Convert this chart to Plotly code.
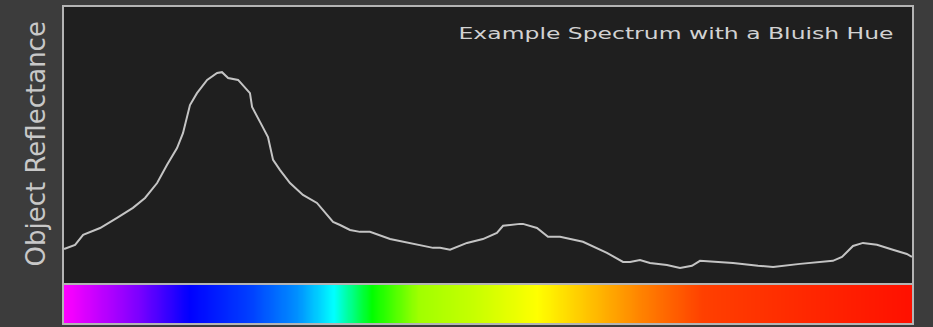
import numpy as np
import plotly.graph_objects as go

# Spectrum curve (wavelength in nm, relative reflectance 0..1)
wavelength = [380.0, 385.2, 389.0, 397.0, 405.0, 412.5, 418.2, 423.9, 428.6, 433.3,
              436.1, 439.4, 442.7, 447.5, 452.2, 454.5, 457.4, 462.1, 467.7, 468.7,
              472.5, 476.2, 478.6, 481.9, 486.6, 492.7, 499.3, 506.9, 510.2, 514.9,
              519.6, 524.3, 533.8, 544.6, 554.1, 557.4, 562.1, 570.1, 577.6, 584.2,
              587.1, 595.1, 596.5, 603.1, 608.3, 614.0, 624.8, 636.1, 643.7, 647.0,
              651.7, 656.4, 664.4, 670.6, 676.2, 680.0, 695.6, 707.4, 714.5, 727.2,
              738.0, 742.7, 747.0, 752.2, 756.9, 763.5, 771.0, 777.6, 780.0]
reflectance = [0.123, 0.138, 0.174, 0.199, 0.236, 0.272, 0.308, 0.362, 0.428, 0.489,
               0.543, 0.645, 0.688, 0.736, 0.761, 0.764, 0.743, 0.736, 0.688, 0.638,
               0.583, 0.529, 0.446, 0.409, 0.362, 0.319, 0.290, 0.221, 0.210, 0.192,
               0.185, 0.185, 0.159, 0.141, 0.127, 0.127, 0.120, 0.145, 0.159, 0.181,
               0.207, 0.214, 0.214, 0.199, 0.167, 0.167, 0.149, 0.109, 0.076, 0.076,
               0.083, 0.072, 0.065, 0.054, 0.062, 0.080, 0.072, 0.062, 0.058, 0.069,
               0.076, 0.080, 0.094, 0.134, 0.145, 0.138, 0.120, 0.105, 0.094, 0.109]
reflectance = reflectance[:len(wavelength)]

# Spectrum bar colour stops (wavelength nm -> colour)
stop_nm = [380, 414, 439, 468, 490, 507, 525, 547, 574, 603, 628, 653, 681, 729, 780]
stop_col = ["#ff00ff", "#8000ff", "#0000ff", "#0040ff", "#0090ff", "#00ffff", "#00ff00",
            "#a0ff00", "#c8ff00", "#ffff00", "#ffc000", "#ff8000", "#ff4000", "#ff2800",
            "#ff1000"]

title_text = "Example Spectrum with a Bluish Hue"
ylabel_text = "Object Reflectance"

x_lo, x_hi = 379.5, 780.5
colorscale = [[(n - stop_nm[0]) / (stop_nm[-1] - stop_nm[0]), c] for n, c in zip(stop_nm, stop_col)]
bar_x = np.linspace(x_lo, x_hi, 400)

fig = go.Figure()
fig.add_trace(go.Heatmap(
    x=bar_x, y=[0, 1], z=[bar_x, bar_x], zmin=stop_nm[0], zmax=stop_nm[-1],
    colorscale=colorscale, showscale=False, zsmooth="best", hoverinfo="skip",
    xaxis="x2", yaxis="y2"))
fig.add_trace(go.Scatter(
    x=wavelength, y=reflectance, mode="lines",
    line=dict(color="#c4c4c4", width=2), hoverinfo="skip"))

split = (324 - 284) / 318
fig.update_layout(
    width=933, height=327,
    margin=dict(l=63, r=20, t=6, b=3),
    paper_bgcolor="#3c3c3c", plot_bgcolor="#1f1f1f",
    showlegend=False,
    xaxis=dict(range=[x_lo, x_hi], visible=False, domain=[0, 1]),
    yaxis=dict(range=[-0.004, 1.004], visible=False, domain=[split, 1]),
    xaxis2=dict(range=[x_lo, x_hi], visible=False, domain=[0, 1], anchor="y2"),
    yaxis2=dict(range=[0, 1], visible=False, domain=[0, split], anchor="x2"),
    shapes=[
        dict(type="rect", xref="paper", yref="paper", x0=0, x1=1, y0=split, y1=1,
             line=dict(color="#b4b4b4", width=2)),
        dict(type="rect", xref="paper", yref="paper", x0=0, x1=1, y0=0, y1=split,
             line=dict(color="#b4b4b4", width=2)),
    ],
    annotations=[
        dict(text=title_text, xref="paper", yref="paper", x=(675.5 - 63) / 850,
             y=(324 - 33.5) / 318, xanchor="center", yanchor="middle", showarrow=False,
             font=dict(family="DejaVu Sans", size=15, color="#d2d2d2")),
        dict(text=ylabel_text, xref="paper", yref="paper", x=(35 - 63) / 850,
             y=(324 - 144.5) / 318, xanchor="center", yanchor="middle", showarrow=False,
             textangle=-90,
             font=dict(family="DejaVu Sans", size=26, color="#c8c8c8")),
    ],
)

post = """
document.body.style.margin = '0';
var gd = document.getElementById('{plot_id}');
gd.querySelectorAll('text.annotation-text').forEach(function (el) {
  if (el.textContent.indexOf('Example') === 0) {
    el.setAttribute('textLength', '435');
    el.setAttribute('lengthAdjust', 'spacingAndGlyphs');
  }
});
"""
fig.write_html("out.html", post_script=post, config={"displayModeBar": False, "staticPlot": True})
